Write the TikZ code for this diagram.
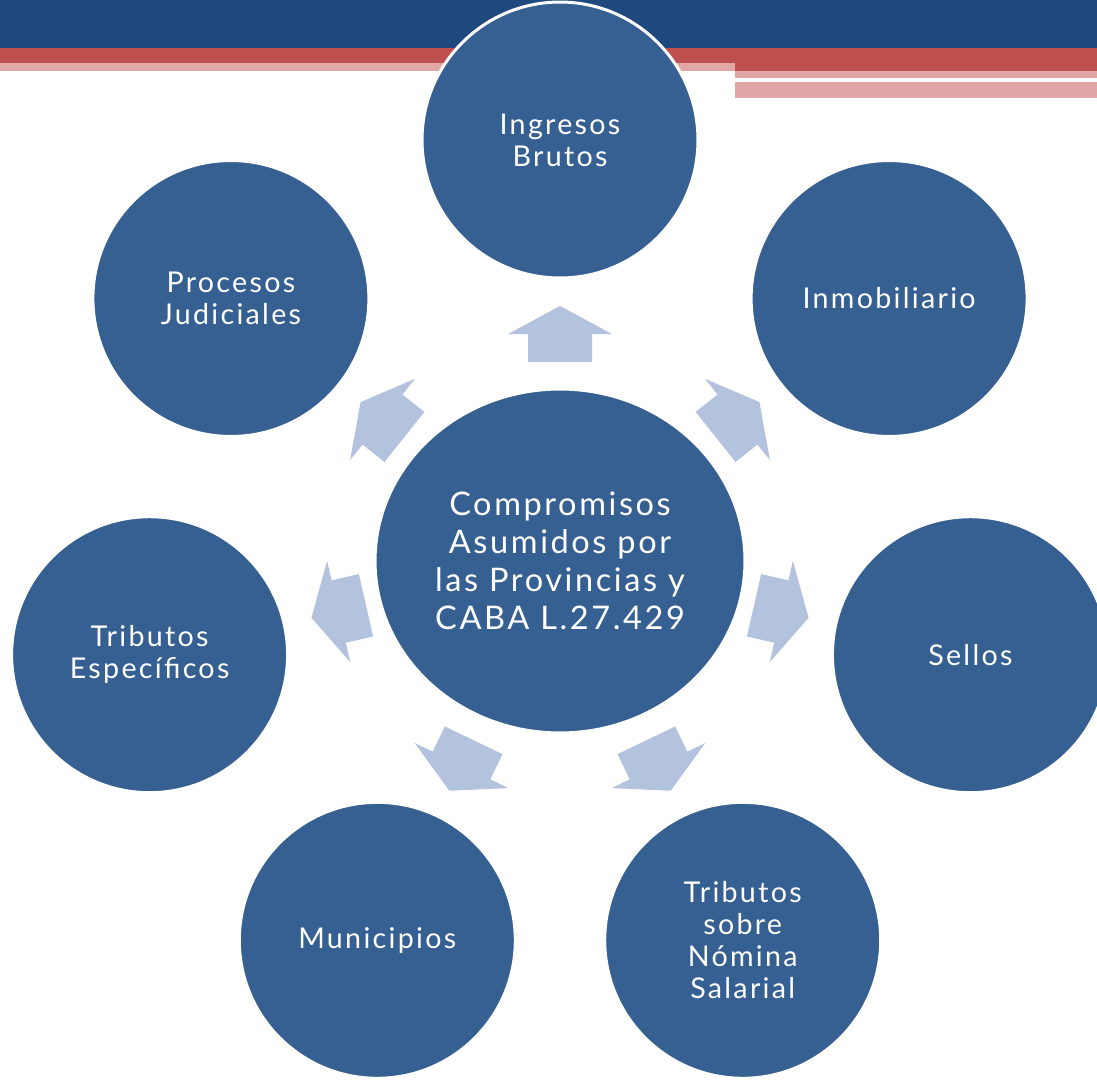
\documentclass[tikz,border=0pt]{standalone}
\usepackage{fontspec}
\setmainfont{Lato}[LetterSpace=8]
\usepackage{tikz}
\usetikzlibrary{shapes.geometric}

\definecolor{bannerblue}{RGB}{31,73,125}
\definecolor{bannerred}{RGB}{192,80,77}
\definecolor{bannerpink}{RGB}{224,167,166}
\definecolor{circblue}{RGB}{55,96,146}
\definecolor{arrowblue}{RGB}{179,195,222}

\begin{document}
\begin{tikzpicture}[x=0.02cm,y=0.02cm,
    outer/.style={circle,fill=circblue,draw=white,line width=1.7pt,minimum size=5.52cm,
      text=white,align=center,font=\fontsize{16.3}{18.2}\selectfont},
    centre/.style={ellipse,fill=circblue,draw=white,line width=1.7pt,minimum width=7.4cm,
      minimum height=6.88cm,text=white,align=center,font=\fontsize{18.5}{21.6}\selectfont},
    blockarrow/.style={fill=arrowblue}]
      \useasboundingbox (0,0) rectangle (1097,1080);
      \clip (0,0) rectangle (1097,1080);

      \fill[bannerblue] (0,1032) rectangle (1097,1080);
      \fill[bannerred] (0,1017) rectangle (1097,1032);
      \fill[bannerred] (735,1009) rectangle (1097,1017);
      \fill[bannerpink] (0,1009) rectangle (735,1017);
      \fill[bannerpink] (735,1002) rectangle (1097,1009);
      \fill[bannerpink] (735,982) rectangle (1097,998);

      \node (ingresos) [outer] at (560,940) {Ingresos\\Brutos};
      \node (inmob) [outer] at (889.1,781.5) {Inmobiliario};
      \node (sellos) [outer] at (970.4,425.3) {Sellos};
      \node (nomina) [outer] at (742.7,139.7) {Tributos\\sobre\\Nómina\\Salarial};
      \node (munic) [outer] at (377.3,139.7) {Municipios};
      \node (especif) [outer] at (149.6,425.3) {Tributos\\Específicos};
      \node (procesos) [outer] at (230.9,781.5) {Procesos\\Judiciales};

      \node (comp) [centre] at (560,519) {Compromisos\\Asumidos por\\las Provincias y\\CABA L.27.429};

      \fill[blockarrow,shift={(560,746)},rotate=0] (-32,-28) -- (32,-28) -- (32,0) -- (52,0) -- (0,28) -- (-52,0) -- (-32,0) -- cycle;
      \fill[blockarrow,shift={(737.5,660.5)},rotate=-51.43] (-32,-28) -- (32,-28) -- (32,0) -- (52,0) -- (0,28) -- (-52,0) -- (-32,0) -- cycle;
      \fill[blockarrow,shift={(781.3,468.5)},rotate=-102.86] (-32,-28) -- (32,-28) -- (32,0) -- (52,0) -- (0,28) -- (-52,0) -- (-32,0) -- cycle;
      \fill[blockarrow,shift={(658.5,314.5)},rotate=-154.29] (-32,-28) -- (32,-28) -- (32,0) -- (52,0) -- (0,28) -- (-52,0) -- (-32,0) -- cycle;
      \fill[blockarrow,shift={(461.5,314.5)},rotate=154.29] (-32,-28) -- (32,-28) -- (32,0) -- (52,0) -- (0,28) -- (-52,0) -- (-32,0) -- cycle;
      \fill[blockarrow,shift={(338.7,468.5)},rotate=102.86] (-32,-28) -- (32,-28) -- (32,0) -- (52,0) -- (0,28) -- (-52,0) -- (-32,0) -- cycle;
      \fill[blockarrow,shift={(382.5,660.5)},rotate=51.43] (-32,-28) -- (32,-28) -- (32,0) -- (52,0) -- (0,28) -- (-52,0) -- (-32,0) -- cycle;
    \end{tikzpicture}
\end{document}
